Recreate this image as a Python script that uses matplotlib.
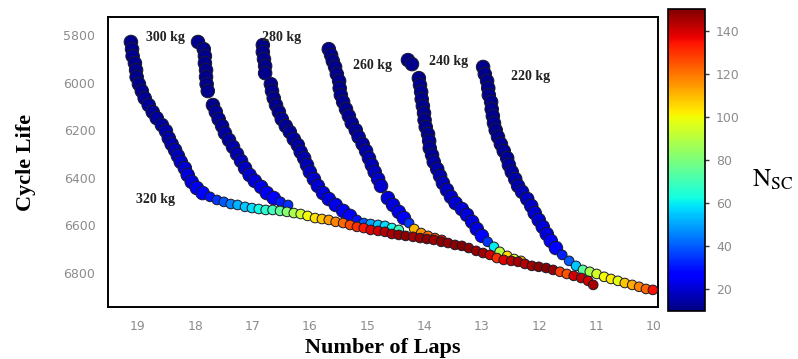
import numpy as np
import matplotlib
matplotlib.use('Agg')
import matplotlib.pyplot as plt

plt.rcParams['mathtext.fontset'] = 'stix'

# Data: laps, cycle life and N_SC for each load
laps_320 = [19.12, 19.10, 19.09, 19.05, 19.03, 19.02, 18.98, 18.93, 18.88, 18.81, 18.74, 18.67, 18.58, 18.51,
            18.46, 18.41, 18.35, 18.30, 18.25, 18.18, 18.13, 18.06, 17.97, 17.87,
            17.74, 17.62, 17.50, 17.38, 17.26, 17.13, 17.01, 16.89, 16.77, 16.65, 16.52, 16.40, 16.28, 16.16,
            16.04, 15.91, 15.79, 15.67, 15.55, 15.42, 15.30, 15.18, 15.06, 14.94, 14.81, 14.69, 14.57, 14.45,
            14.33, 14.20, 14.08, 13.96, 13.84, 13.71, 13.59, 13.47, 13.35, 13.23, 13.10, 12.98, 12.86, 12.74,
            12.62, 12.49, 12.37, 12.25, 12.13, 12.01, 11.88, 11.76, 11.64, 11.52, 11.40, 11.27, 11.15, 11.06]
life_320 = [5829, 5859, 5888, 5918, 5947, 5976, 6006, 6035, 6065, 6094, 6123, 6149, 6178, 6203,
            6233, 6258, 6283, 6308, 6333, 6359, 6388, 6417, 6443, 6464,
            6480, 6493, 6501, 6510, 6514, 6522, 6527, 6531, 6535, 6535, 6539, 6543, 6548, 6552,
            6560, 6569, 6573, 6577, 6585, 6590, 6598, 6606, 6611, 6619, 6623, 6627, 6636, 6640,
            6644, 6648, 6653, 6657, 6661, 6669, 6674, 6682, 6686, 6695, 6707, 6716, 6724, 6737,
            6745, 6749, 6753, 6762, 6770, 6774, 6779, 6787, 6795, 6804, 6812, 6821, 6833, 6850]
nsc_320 = [12, 12, 12, 12, 12, 12, 12, 12, 13, 13, 13, 14, 14, 15,
           15, 16, 17, 18, 19, 20, 21, 22, 25, 28,
           30, 35, 40, 45, 52, 55, 58, 62, 66, 70, 76, 82, 88, 94,
           100, 104, 108, 114, 118, 122, 126, 130, 134, 138, 140, 143, 145, 147,
           148, 145, 147, 148, 146, 148, 147, 148, 149, 148, 147, 146, 140, 130,
           138, 142, 145, 143, 146, 148, 149, 147, 128, 125, 140, 142, 140, 145]

laps_300 = [17.95, 17.85, 17.83, 17.83, 17.81, 17.81, 17.80, 17.78, 17.69, 17.64, 17.59, 17.53, 17.48,
            17.41, 17.34, 17.27, 17.20, 17.13, 17.05, 16.96, 16.85, 16.75, 16.63, 16.51, 16.38]
life_300 = [5829, 5859, 5888, 5918, 5947, 5976, 6006, 6035, 6094, 6123, 6153, 6182, 6212,
            6241, 6270, 6300, 6329, 6359, 6388, 6413, 6438, 6464, 6485, 6501, 6514]
nsc_300 = [12, 12, 12, 12, 12, 12, 12, 12, 12, 13, 13, 13, 14,
           14, 15, 16, 17, 18, 20, 21, 23, 25, 28, 31, 34]

laps_280 = [16.82, 16.82, 16.80, 16.78, 16.78, 16.68, 16.66, 16.63, 16.59, 16.54, 16.49, 16.42, 16.35,
            16.28, 16.21, 16.16, 16.10, 16.05, 16.00, 15.93, 15.86, 15.77, 15.67, 15.55, 15.42,
            15.30, 15.18, 15.06, 14.94, 14.81, 14.69, 14.57, 14.45]
life_280 = [5842, 5871, 5901, 5930, 5960, 6006, 6035, 6065, 6094, 6123, 6153, 6182, 6207,
            6237, 6262, 6291, 6317, 6346, 6375, 6405, 6434, 6464, 6489, 6514, 6539,
            6560, 6577, 6590, 6594, 6598, 6602, 6611, 6619]
nsc_280 = [12, 12, 12, 12, 12, 12, 12, 12, 12, 12, 13, 13, 13,
           14, 14, 15, 16, 17, 18, 19, 20, 21, 22, 23, 24,
           25, 30, 40, 50, 55, 58, 62, 70]

laps_260 = [15.67, 15.63, 15.60, 15.56, 15.53, 15.49, 15.48, 15.46, 15.42, 15.37, 15.32, 15.27, 15.20,
            15.15, 15.08, 15.02, 14.97, 14.92, 14.87, 14.81, 14.76, 14.64, 14.55, 14.45, 14.36, 14.27,
            14.18, 14.06, 13.94, 13.82, 13.70]
life_260 = [5859, 5884, 5909, 5934, 5964, 5993, 6023, 6052, 6081, 6111, 6140, 6170, 6199,
            6228, 6258, 6287, 6317, 6346, 6375, 6405, 6434, 6485, 6514, 6543, 6569, 6590,
            6615, 6632, 6644, 6653, 6661]
nsc_260 = [12, 12, 12, 12, 12, 12, 12, 12, 12, 12, 13, 13, 13,
           14, 14, 15, 16, 17, 18, 19, 20, 21, 22, 23, 25, 35,
           110, 115, 120, 125, 135]

laps_240 = [14.29, 14.22, 14.10, 14.08, 14.06, 14.05, 14.03, 14.01, 14.00, 13.98, 13.94, 13.92, 13.91,
            13.87, 13.84, 13.78, 13.73, 13.68, 13.61, 13.54, 13.46, 13.35, 13.26, 13.17, 13.09, 13.00,
            12.90, 12.79, 12.69, 12.56, 12.44, 12.32]
life_240 = [5905, 5922, 5981, 6010, 6039, 6069, 6098, 6128, 6157, 6186, 6216, 6245, 6275,
            6304, 6333, 6363, 6392, 6422, 6451, 6480, 6506, 6531, 6556, 6585, 6615, 6644,
            6669, 6690, 6711, 6728, 6741, 6749]
nsc_240 = [12, 12, 12, 12, 12, 12, 12, 12, 12, 12, 12, 13, 13,
           13, 14, 15, 16, 17, 18, 19, 20, 21, 21, 22, 22, 28,
           35, 60, 90, 105, 95, 110]

laps_220 = [12.98, 12.95, 12.91, 12.89, 12.88, 12.84, 12.83, 12.81, 12.79, 12.76, 12.72, 12.67, 12.62,
            12.56, 12.53, 12.48, 12.42, 12.37, 12.30, 12.21, 12.14, 12.08, 12.01, 11.94, 11.87, 11.80,
            11.71, 11.60, 11.48, 11.36, 11.24, 11.12, 11.00, 10.87, 10.75, 10.63, 10.51, 10.38, 10.26,
            10.14, 10.02]
life_220 = [5934, 5964, 5993, 6023, 6052, 6081, 6111, 6140, 6170, 6199, 6228, 6258, 6287,
            6317, 6346, 6375, 6405, 6434, 6459, 6489, 6518, 6548, 6577, 6606, 6636, 6665,
            6695, 6724, 6749, 6770, 6787, 6795, 6804, 6816, 6825, 6833, 6842, 6850, 6858,
            6867, 6871]
nsc_220 = [12, 12, 12, 12, 12, 12, 12, 12, 12, 12, 12, 13, 13,
           13, 14, 14, 15, 16, 17, 18, 19, 20, 20, 21, 22, 25,
           28, 32, 40, 55, 75, 88, 95, 100, 102, 98, 108, 112, 118,
           122, 135]

labels = ['300 kg', '280 kg', '260 kg', '240 kg', '220 kg', '320 kg']
label_laps = [18.51, 16.49, 14.90, 13.59, 12.16, 18.70]
label_life = [5808, 5808, 5926, 5909, 5972, 6489]

x_ticks = [19, 18, 17, 16, 15, 14, 13, 12, 11, 10]
y_ticks = [5800, 6000, 6200, 6400, 6600, 6800]
cb_ticks = [20, 40, 60, 80, 100, 120, 140]
nsc_min, nsc_max = 10, 150

fig = plt.figure(figsize=(7.98, 3.59), dpi=100)
ax = fig.add_axes([0.1353, 0.1448, 0.6893, 0.8078])
cax = fig.add_axes([0.8371, 0.1337, 0.0464, 0.8412])

series = [(laps_220, life_220, nsc_220), (laps_240, life_240, nsc_240), (laps_260, life_260, nsc_260),
          (laps_280, life_280, nsc_280), (laps_300, life_300, nsc_300), (laps_320, life_320, nsc_320)]
for lp, lf, nc in series:
    nc = np.array(nc)
    # the blue (low N_SC) stretches are drawn as a thicker band
    sizes = np.where(nc < 30, 95, 48)
    sc = ax.scatter(lp, lf, c=nc, cmap='jet', vmin=nsc_min, vmax=nsc_max, s=sizes,
                    edgecolors='#1a1a2a', linewidths=0.7, zorder=3)

for t, lx, ly in zip(labels, label_laps, label_life):
    ax.text(lx, ly, t, ha='center', va='center', fontsize=10, fontweight='bold',
            family='Liberation Serif', color='#222222', zorder=5)

ax.set_xlim(19.52, 9.93)
ax.set_ylim(6943, 5724)
ax.set_xticks(x_ticks)
ax.set_yticks(y_ticks)
ax.tick_params(length=0, labelsize=9, labelcolor='#8c8c8c', pad=9)
for sp in ax.spines.values():
    sp.set_linewidth(1.4)
ax.set_xlabel('Number of Laps', fontsize=16, fontweight='bold', family='Liberation Serif', labelpad=4)
ax.set_ylabel('Cycle Life', fontsize=16, fontweight='bold', family='Liberation Serif', labelpad=20)

cb = fig.colorbar(sc, cax=cax, ticks=cb_ticks)
cb.outline.set_linewidth(1.2)
cax.tick_params(length=3, width=1, labelsize=9, labelcolor='#8c8c8c', color='#333333', pad=5)
fig.text(0.968, 0.50, r'$\mathrm{N_{SC}}$', fontsize=18, ha='center', va='center')

fig.savefig('out.png', dpi=100)
